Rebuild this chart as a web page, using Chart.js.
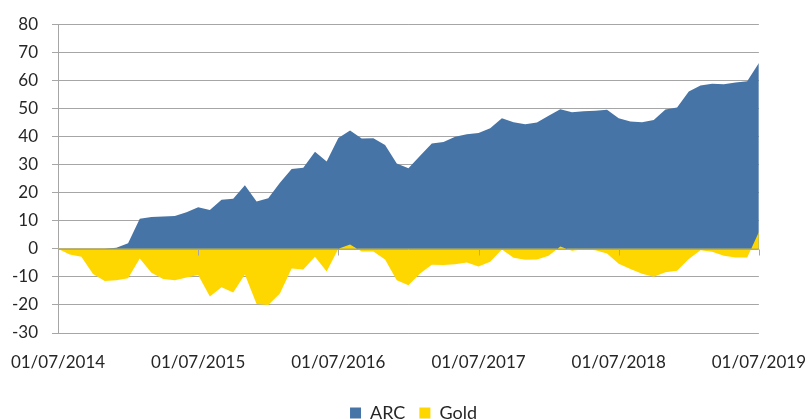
<!DOCTYPE html>
<html>
<head>
<meta charset="utf-8">
<script src="https://cdn.jsdelivr.net/npm/chart.js@4.4.0/dist/chart.umd.min.js"></script>
<style>
  html, body { margin: 0; padding: 0; background: #fff; }
  #wrap { width: 808px; height: 419px; }
</style>
</head>
<body>
<div id="wrap"><canvas id="areaChart"></canvas></div>
<script>
// monthly points, 01/07/2014 .. 01/07/2019
const months = []
for (let y = 2014, m = 7; months.length < 61; m++) {
    if (m > 12) { m = 1; y++ }
    months.push('01/' + String(m).padStart(2, '0') + '/' + y)
}

const arcValues = [0, 0, 0, 0, 0, 0.4, 2, 10.7, 11.3, 11.5,
    11.7, 13, 14.8, 13.8, 17.5, 17.8, 22.6, 16.8, 18, 23.5,
    28.4, 28.9, 34.6, 31.1, 39.5, 42.1, 39.3, 39.4, 37, 30.4,
    28.7, 33.1, 37.5, 38, 39.9, 40.8, 41.2, 42.9, 46.5, 45.1,
    44.4, 45, 47.4, 49.7, 48.6, 49, 49.2, 49.5, 46.5, 45.3,
    45.1, 45.9, 49.6, 50.3, 56, 58.2, 58.8, 58.6, 59.2, 59.7,
    66.2]

const goldValues = [0, -2, -2.8, -9, -11.5, -11.2, -10.5, -3.5, -8.5, -10.8,
    -11.2, -10.2, -9.3, -17, -13.7, -15.6, -9.2, -19.7, -20, -15.9,
    -7, -7.4, -2.8, -8.1, 0, 1.5, -1, -1, -3.8, -11.2,
    -13, -8.8, -5.7, -5.8, -5.5, -4.9, -6.3, -4.6, -0.3, -3.2,
    -3.9, -3.8, -2.5, 0.8, -0.7, -0.2, -0.5, -1.7, -5.3, -7.2,
    -8.9, -10, -8.4, -7.8, -3.6, -0.5, -1.1, -2.5, -3.1, -3.1,
    6]

const yTicks = [-30, -20, -10, 0, 10, 20, 30, 40, 50, 60, 70, 80]

const gridGray = '#a6a6a6'
const textColor = '#262626'
const fontFamily = 'Lato'

// axis line at zero with yearly tick marks (category axis crosses at 0)
const zeroAxis = {
    id: 'zeroAxis',
    afterDatasetsDraw(chart) {
        const x = chart.scales.x, y = chart.scales.y
        const ctx = chart.ctx
        const y0 = Math.round(y.getPixelForValue(0)) + 0.5
        ctx.save()
        ctx.strokeStyle = gridGray
        ctx.lineWidth = 1
        ctx.beginPath()
        ctx.moveTo(x.left, y0)
        ctx.lineTo(x.right, y0)
        months.forEach((lbl, i) => {
            if (i % 12 === 0 && i > 0) {
                const px = Math.round(x.getPixelForValue(i)) + 0.5
                ctx.moveTo(px, y0)
                ctx.lineTo(px, y0 + 6)
            }
        })
        ctx.stroke()
        ctx.restore()
    }
}

const ctx = document.getElementById('areaChart').getContext('2d')
const myChart = new Chart(ctx, {
    type: 'line',
    data: {
        labels: months,
        datasets: [{
            label: 'ARC',
            data: arcValues,
            fill: 'origin',
            backgroundColor: '#4674a6',
            borderWidth: 0,
            pointRadius: 0,
            tension: 0,
            order: 1
        }, {
            label: 'Gold',
            data: goldValues,
            fill: 'origin',
            backgroundColor: '#ffd700',
            borderWidth: 0,
            pointRadius: 0,
            tension: 0,
            order: 0
        }]
    },
    options: {
        responsive: true,
        maintainAspectRatio: false,
        animation: false,
        layout: {
            // right edge of the plot is set by the last x label, this only centres the legend
            padding: { top: 23, right: -19, bottom: -13, left: 0 }
        },
        plugins: {
            tooltip: { enabled: false },
            legend: {
                position: 'bottom',
                labels: {
                    boxWidth: 11,
                    boxHeight: 11,
                    padding: 14,
                    color: textColor,
                    font: { family: fontFamily, size: 18 },
                    sort: (a, b) => a.datasetIndex - b.datasetIndex
                }
            }
        },
        scales: {
            x: {
                grid: { display: false, drawTicks: true, tickLength: 17 },
                border: { display: false },
                ticks: {
                    autoSkip: false,
                    maxRotation: 0,
                    padding: 2,
                    color: textColor,
                    font: { family: fontFamily, size: 17 },
                    callback: (v, i) => i % 12 === 0 ? months[i] : null
                },
                afterFit: (scale) => { scale.height = 57 }
            },
            y: {
                min: -30,
                max: 80,
                afterBuildTicks: (scale) => { scale.ticks = yTicks.map(v => ({ value: v })) },
                grid: { color: gridGray, lineWidth: 1, tickLength: 6 },
                border: { display: true, color: gridGray, width: 1 },
                ticks: {
                    padding: 14,
                    color: textColor,
                    font: { family: fontFamily, size: 17 }
                },
                afterFit: (scale) => { scale.width = 58 }
            }
        }
    },
    plugins: [zeroAxis]
})
</script>
</body>
</html>
